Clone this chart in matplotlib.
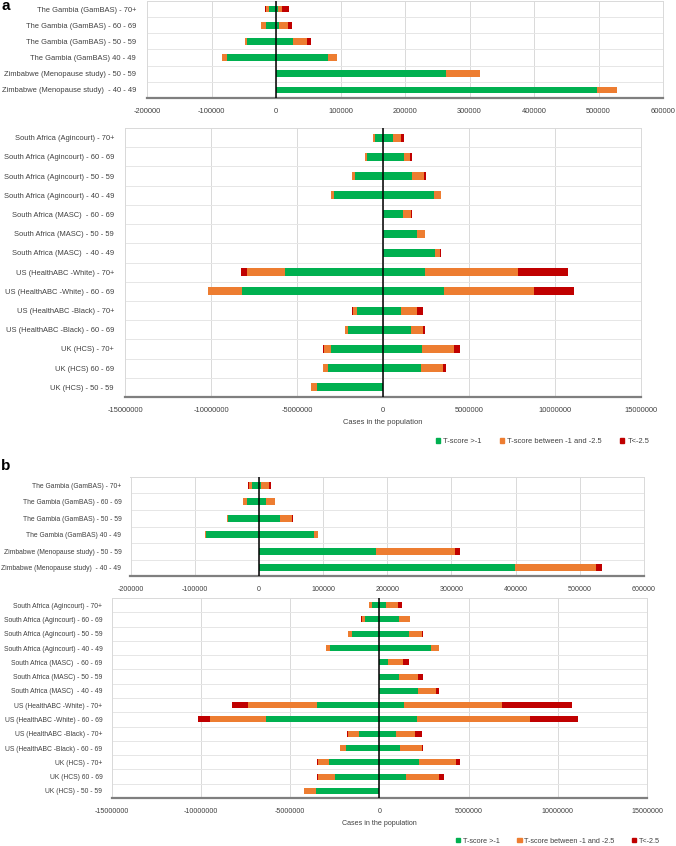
import matplotlib
matplotlib.use("Agg")
import matplotlib.pyplot as plt
from matplotlib.patches import Patch

W, H = 676, 846
plt.rcParams['font.family'] = ['Liberation Sans', 'DejaVu Sans']
plt.rcParams['axes.unicode_minus'] = False

GREEN, ORANGE, RED = '#00B050', '#ED7D31', '#C00000'
series_names = ['T-score >-1', 'T-score between -1 and -2.5', 'T<-2.5']
FS_A = 5.4
FS_B = 4.9

# ---------------- Panel a (top) ----------------
cats_small = ["The Gambia (GamBAS) - 70+", "The Gambia (GamBAS) - 60 - 69",
              "The Gambia (GamBAS) - 50 - 59", "The Gambia (GamBAS) 40 - 49",
              "Zimbabwe (Menopause study) - 50 - 59", "Zimbabwe (Menopause study)  - 40 - 49"]
a1_left_green = [10700, 15300, 45300, 76300, 0, 0]
a1_left_orange = [5000, 8000, 3300, 7700, 0, 0]
a1_left_red = [1500, 0, 0, 0, 0, 0]
a1_right_green = [3300, 5300, 26700, 81300, 263000, 498000]
a1_right_orange = [6700, 14000, 21300, 12700, 54000, 31000]
a1_right_red = [10000, 6000, 6000, 0, 0, 0]

# ---------------- Panel a (bottom) ----------------
cats_large = ["South Africa (Agincourt) - 70+", "South Africa (Agincourt) - 60 - 69",
              "South Africa (Agincourt) - 50 - 59", "South Africa (Agincourt) - 40 - 49",
              "South Africa (MASC)  - 60 - 69", "South Africa (MASC) - 50 - 59",
              "South Africa (MASC)  - 40 - 49", "US (HealthABC -White) - 70+",
              "US (HealthABC -White) - 60 - 69", "US (HealthABC -Black) - 70+",
              "US (HealthABC -Black) - 60 - 69", "UK (HCS) - 70+", "UK (HCS) 60 - 69",
              "UK (HCS) - 50 - 59"]
a2_left_green = [475000, 925000, 1650000, 2875000, 0, 0, 0, 5675000, 8225000, 1525000, 2025000, 3025000, 3175000, 3850000]
a2_left_orange = [125000, 100000, 125000, 150000, 0, 0, 0, 2250000, 1925000, 200000, 175000, 400000, 300000, 350000]
a2_left_red = [0, 0, 0, 0, 0, 0, 0, 350000, 0, 75000, 0, 50000, 0, 0]
a2_right_green = [600000, 1200000, 1700000, 2975000, 1175000, 1975000, 3000000, 2450000, 3575000, 1075000, 1600000, 2250000, 2225000, 0]
a2_right_orange = [425000, 375000, 700000, 375000, 425000, 475000, 300000, 5400000, 5200000, 925000, 750000, 1900000, 1275000, 0]
a2_right_red = [175000, 125000, 75000, 0, 100000, 0, 50000, 2900000, 2350000, 325000, 100000, 350000, 150000, 0]

# ---------------- Panel b (top) ----------------
b1_left_green = [10000, 18700, 48200, 82400, 0, 0]
b1_left_orange = [5500, 5700, 2100, 1500, 0, 0]
b1_left_red = [2000, 0, 0, 0, 0, 0]
b1_right_green = [4000, 11000, 33500, 86300, 182700, 399300]
b1_right_orange = [12000, 14500, 18000, 6300, 122700, 125300]
b1_right_red = [3500, 0, 1500, 0, 8700, 10000]

# ---------------- Panel b (bottom) ----------------
b2_left_green = [386000, 773000, 1546000, 2754000, 0, 0, 0, 3478000, 6329000, 1159000, 1884000, 2802000, 2464000, 3527000]
b2_left_orange = [170000, 193000, 193000, 242000, 0, 0, 0, 3865000, 3164000, 580000, 290000, 628000, 966000, 676000]
b2_left_red = [0, 48000, 0, 0, 0, 0, 0, 918000, 652000, 48000, 0, 48000, 30000, 0]
b2_right_green = [386000, 1111000, 1643000, 2899000, 507000, 1111000, 2150000, 1377000, 2126000, 918000, 1184000, 2246000, 1480000, 0]
b2_right_orange = [676000, 604000, 773000, 459000, 797000, 1087000, 1039000, 5507000, 6329000, 1111000, 1184000, 2053000, 1880000, 0]
b2_right_red = [193000, 0, 48000, 0, 386000, 266000, 169000, 3889000, 2705000, 338000, 72000, 217000, 260000, 0]

ticks_small = [-200000, -100000, 0, 100000, 200000, 300000, 400000, 500000, 600000]
ticks_large = [-15000000, -10000000, -5000000, 0, 5000000, 10000000, 15000000]

fig = plt.figure(figsize=(W / 100, H / 100), dpi=100)


def add_axes(l, r, t, b):
    return fig.add_axes([l / W, 1 - b / H, (r - l) / W, (b - t) / H])


def draw(ax, cats, lg, lo, lr, rg, ro, rr, ticks, fs, xfs, ypad):
    y = list(range(len(cats)))
    h = 0.42
    lg_n = [-v for v in lg]
    lo_n = [-v for v in lo]
    lr_n = [-v for v in lr]
    ax.barh(y, lg_n, height=h, color=GREEN, zorder=3)
    ax.barh(y, lo_n, left=lg_n, height=h, color=ORANGE, zorder=3)
    ax.barh(y, lr_n, left=[a + b for a, b in zip(lg_n, lo_n)], height=h, color=RED, zorder=3)
    ax.barh(y, rg, height=h, color=GREEN, zorder=3)
    ax.barh(y, ro, left=rg, height=h, color=ORANGE, zorder=3)
    ax.barh(y, rr, left=[a + b for a, b in zip(rg, ro)], height=h, color=RED, zorder=3)
    ax.set_ylim(len(cats) - 0.5, -0.5)
    ax.set_xlim(ticks[0], ticks[-1])
    ax.set_yticks(y)
    ax.set_yticklabels(cats, fontsize=fs, color='#404040')
    ax.set_xticks(ticks)
    ax.set_xticklabels([str(t) for t in ticks], fontsize=xfs, color='#404040')
    ax.tick_params(axis='both', length=0)
    ax.tick_params(axis='y', pad=ypad)
    ax.tick_params(axis='x', pad=7)
    ax.set_yticks([i + 0.5 for i in range(len(cats) - 1)], minor=True)
    ax.grid(axis='x', which='major', color='#D9D9D9', lw=0.7, zorder=0)
    ax.grid(axis='y', which='minor', color='#E6E6E6', lw=0.7, zorder=0)
    ax.tick_params(axis='y', which='minor', length=0)
    ax.axvline(0, color='black', lw=1.1, zorder=4)
    for s in ['top', 'left', 'right']:
        ax.spines[s].set_color('#D9D9D9')
        ax.spines[s].set_linewidth(0.7)
    ax.spines['bottom'].set_color('#7F7F7F')
    ax.spines['bottom'].set_linewidth(1.6)
    ax.set_facecolor('white')


ax1 = add_axes(147, 663, 1, 98)
draw(ax1, cats_small, a1_left_green, a1_left_orange, a1_left_red,
     a1_right_green, a1_right_orange, a1_right_red, ticks_small, FS_A, FS_A, 8)

ax2 = add_axes(125, 641, 128, 397)
draw(ax2, cats_large, a2_left_green, a2_left_orange, a2_left_red,
     a2_right_green, a2_right_orange, a2_right_red, ticks_large, FS_A, FS_A, 8)
ax2.set_xlabel('Cases in the population', fontsize=FS_A, color='#404040', labelpad=4)

ax3 = add_axes(130.5, 644, 477, 576)
draw(ax3, cats_small, b1_left_green, b1_left_orange, b1_left_red,
     b1_right_green, b1_right_orange, b1_right_red, ticks_small, FS_B, 5.1, 6.5)

ax4 = add_axes(111.5, 647, 598, 798)
draw(ax4, cats_large, b2_left_green, b2_left_orange, b2_left_red,
     b2_right_green, b2_right_orange, b2_right_red, ticks_large, FS_B, 5.1, 6.5)
ax4.set_xlabel('Cases in the population', fontsize=5.1, color='#404040', labelpad=4)

handles = [Patch(color=c, label=n) for c, n in zip([GREEN, ORANGE, RED], series_names)]
for cx, cy, fs in [(542.5, 441.7, FS_A), (558, 841.0, 5.2)]:
    fig.legend(handles=handles, loc='center', bbox_to_anchor=(cx / W, 1 - cy / H),
               ncol=3, frameon=False, fontsize=fs, handlelength=0.6, handleheight=0.6,
               handletextpad=0.4, columnspacing=2.4, borderaxespad=0, borderpad=0,
               labelcolor='#404040')

fig.text(1 / W, 1 - 6 / H, 'a', fontsize=11, fontweight='bold', va='center', ha='left')
fig.text(1 / W, 1 - 466 / H, 'b', fontsize=11, fontweight='bold', va='center', ha='left')

fig.savefig('out.png', dpi=100, facecolor='white')
